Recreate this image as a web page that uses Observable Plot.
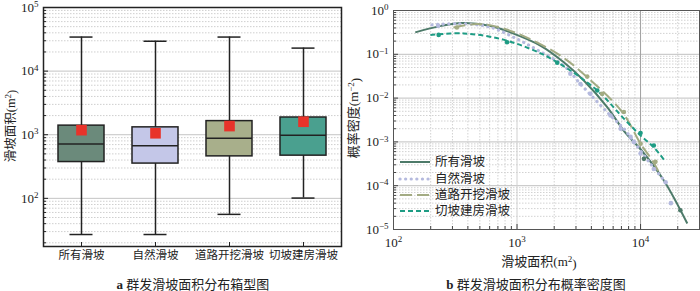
<!DOCTYPE html>
<html><head><meta charset="utf-8">
<script src="https://cdn.jsdelivr.net/npm/d3@7"></script>
<script src="https://cdn.jsdelivr.net/npm/@observablehq/plot@0.6"></script>
<style>
body{margin:0;background:#fff;}
#wrap{position:relative;width:700px;height:291px;overflow:hidden;font-family:'Liberation Serif','Noto Sans CJK SC',serif;color:#222;}
.panel{position:absolute;top:0;}
.cap{position:absolute;top:277px;font-size:13px;line-height:15px;white-space:nowrap;transform:translateX(-50%);}
</style></head><body>
<div id="wrap">
 <div id="a" class="panel" style="left:0"></div>
 <div id="b" class="panel" style="left:350px"></div>
 <div class="cap" style="left:193px"><b>a</b> 群发滑坡面积分布箱型图</div>
 <div class="cap" style="left:536px"><b>b</b> 群发滑坡面积分布概率密度图</div>
</div>
<script>
// ---------- Panel a data (box plot) ----------
const categories = ["所有滑坡", "自然滑坡", "道路开挖滑坡", "切坡建房滑坡"];
const whiskerLow  = [27, 27, 56, 101];
const q1          = [372, 352, 457, 469];
const median      = [718, 670, 884, 982];
const q3          = [1390, 1306, 1637, 1866];
const whiskerHigh = [34300, 29500, 34300, 23000];
const mean        = [1180, 1055, 1368, 1600];

// ---------- Panel b data (probability density) ----------
const seriesNames = ["所有滑坡", "自然滑坡", "道路开挖滑坡", "切坡建房滑坡"];
const allX = [150, 239, 358, 600, 883, 1545, 2390, 3470, 5370, 7550, 10000, 15350, 23900];
const allY = [0.317, 0.44, 0.52, 0.45, 0.317, 0.158, 0.0657, 0.0252, 0.0062, 0.0016, 0.00068, 0.000135, 0.0000137];
const natX = [205, 330, 600, 1000, 1500, 2390, 3260, 5710, 7330, 8830, 12000, 15960];
const natY = [0.47, 0.50, 0.42, 0.224, 0.12, 0.055, 0.021, 0.004, 0.002, 0.001, 0.00032, 0.00012];
const roadX = [306, 474, 700, 1133, 2245, 3700, 7110, 10000, 12440, 14060];
const roadY = [0.41, 0.49, 0.42, 0.26, 0.093, 0.03, 0.0048, 0.00091, 0.00038, 0.000205];
const cutX = [199, 370, 733, 1283, 2115, 4460, 7330, 10000, 12800, 15960];
const cutY = [0.277, 0.30, 0.224, 0.133, 0.066, 0.0149, 0.0034, 0.0014, 0.00075, 0.00035];
// scattered observations
const allDotX = [10650, 21000];
const allDotY = [0.00041, 0.0000275];
const natDotX = [230, 2700, 3260, 3930, 5710, 6900, 8300, 8830, 10000, 12800, 15960, 17600];
const natDotY = [0.45, 0.036, 0.021, 0.0125, 0.004, 0.002, 0.0013, 0.001, 0.00054, 0.00024, 0.00012, 0.00004];
const roadDotX = [326, 3700, 4880, 7330, 10000, 13200];
const roadDotY = [0.41, 0.031, 0.0125, 0.0048, 0.00091, 0.00035];
const cutDotX = [232, 830, 2115, 4460, 10000, 12800];
const cutDotY = [0.277, 0.188, 0.064, 0.0149, 0.0016, 0.00083];

const FONT = "'Liberation Serif','Noto Sans CJK SC',serif";
const boxColors = ["#6b8a7b", "#c4c7e8", "#a8af8b", "#4aa08f"];
const lineColors = ["#4d7a69", "#b5bade", "#a3ab83", "#1e9c84"];

const boxes = categories.map((c, i) => ({cat: c, lo: whiskerLow[i], q1: q1[i], med: median[i], q3: q3[i], hi: whiskerHigh[i], mean: mean[i]}));
const zip = (xs, ys) => xs.map((x, i) => ({x, y: ys[i]}));

function logTicks(lo, hi) {
  const major = [], minor = [];
  for (let e = Math.floor(Math.log10(lo)); e <= Math.ceil(Math.log10(hi)); e++) {
    const b = Math.pow(10, e);
    if (b >= lo * 0.999 && b <= hi * 1.001) major.push(b);
    for (let k = 2; k <= 9; k++) { const v = k * b; if (v > lo && v < hi) minor.push(v); }
  }
  return {major, minor};
}
const expFmt = d => "10^" + String(Math.round(Math.log10(d))).replace("-", "\u2212");

function supify(svg) {
  d3.select(svg).selectAll("text").each(function () {
    const t = this.textContent;
    const m = t.match(/^10\^(.+)$/);
    if (m) {
      const s = d3.select(this);
      s.text(null);
      s.append("tspan").text("10");
      s.append("tspan").attr("dy", "-0.5em").attr("font-size", "9px").text(m[1]);
    }
  });
}

// ---------- Panel a ----------
const yDomA = [17.5, 1e5];
const tA = logTicks(yDomA[0], yDomA[1]);
const mTopA = 7;
const fwA = 350 - 43 - 9, fhA = 262 - mTopA - 16;
const plotA = Plot.plot({
  width: 350, height: 262, marginLeft: 43, marginRight: 9, marginTop: mTopA, marginBottom: 16,
  style: {fontFamily: FONT, fontSize: "13px", color: "#222", background: "transparent", overflow: "visible"},
  x: {type: "band", domain: categories, paddingInner: 0.373, paddingOuter: 0.1865, label: null},
  y: {type: "log", domain: yDomA, label: null},
  color: {domain: categories, range: boxColors},
  marks: [
    Plot.ruleY(tA.minor, {stroke: "#cfcfcf", strokeDasharray: "1.5,1.5"}),
    Plot.ruleY(tA.major, {stroke: "#c4c4c4"}),
    Plot.tickY(tA.minor, {y: d => d, insetRight: fwA - 3, stroke: "#222"}),
    Plot.tickY(tA.major, {y: d => d, insetRight: fwA - 5, stroke: "#222"}),
    Plot.tickX(categories, {x: d => d, insetTop: fhA - 4, stroke: "#222"}),
    Plot.ruleX(boxes, {x: "cat", y1: "lo", y2: "hi", stroke: "#222", strokeWidth: 1.5}),
    Plot.tickY(boxes, {x: "cat", y: "lo", insetLeft: 11.5, insetRight: 11.5, stroke: "#222", strokeWidth: 1.5}),
    Plot.tickY(boxes, {x: "cat", y: "hi", insetLeft: 11.5, insetRight: 11.5, stroke: "#222", strokeWidth: 1.5}),
    Plot.barY(boxes, {x: "cat", y1: "q1", y2: "q3", fill: "cat", stroke: "#222", strokeWidth: 1.5}),
    Plot.tickY(boxes, {x: "cat", y: "med", stroke: "#222", strokeWidth: 1.5}),
    Plot.dot(boxes, {x: "cat", y: "mean", symbol: "square", r: 6, fill: "#e8332a"}),
    Plot.axisY({ticks: tA.major, tickFormat: expFmt, tickSize: 0, tickPadding: 5, label: null}),
    Plot.axisX({tickSize: 0, tickPadding: 4, label: null, fontSize: 11.5}),
    Plot.frame({stroke: "#222", strokeWidth: 1.5})
  ]
});
supify(plotA);
{
  const t = d3.select(plotA).append("text")
    .attr("transform", "translate(10,126) rotate(-90)")
    .attr("dy", "0.38em")
    .attr("text-anchor", "middle").attr("font-size", "12.5px").attr("fill", "#222");
  t.append("tspan").text("滑坡面积(m");
  t.append("tspan").attr("dy", "-0.45em").attr("font-size", "9px").text("2");
  t.append("tspan").attr("dy", "0.45em").text(")");
}
document.getElementById("a").append(plotA);

// ---------- Panel b ----------
const xDomB = [100, 30000], yDomB = [1e-5, 1];
const tBx = logTicks(xDomB[0], xDomB[1]);
const tBy = logTicks(yDomB[0], yDomB[1]);
const fwB = 350 - 43 - 1, fhB = 270 - 10 - 41;
const pts = [zip(allX, allY), zip(natX, natY), zip(roadX, roadY), zip(cutX, cutY)];
const dots = [zip(allDotX, allDotY), zip(natDotX, natDotY), zip(roadDotX, roadDotY), zip(cutDotX, cutDotY)];
const dashes = [null, "0.1,5.5", "12,5", "5,3"];
const widths = [2, 3.2, 2, 2];

const plotB = Plot.plot({
  width: 350, height: 270, marginLeft: 43, marginRight: 1, marginTop: 10, marginBottom: 41,
  style: {fontFamily: FONT, fontSize: "13px", color: "#222", background: "transparent", overflow: "visible"},
  x: {type: "log", domain: xDomB, label: null},
  y: {type: "log", domain: yDomB, label: null},
  marks: [
    Plot.ruleY(tBy.minor, {stroke: "#d2d2d2", strokeDasharray: "1.5,1.5"}),
    Plot.ruleX(tBx.minor, {stroke: "#d2d2d2", strokeDasharray: "1.5,1.5"}),
    Plot.ruleY(tBy.major, {stroke: "#c0c0c0"}),
    Plot.ruleX(tBx.major.filter(d => d !== 10000), {stroke: "#d0d0d0"}),
    Plot.ruleX(tBx.major.filter(d => d === 10000), {stroke: "#a0a0a0"}),
    Plot.tickY(tBy.minor, {y: d => d, insetRight: fwB - 3, stroke: "#444"}),
    Plot.tickY(tBy.major, {y: d => d, insetRight: fwB - 5, stroke: "#444"}),
    Plot.tickX(tBx.minor, {x: d => d, insetTop: fhB - 3, stroke: "#444"}),
    Plot.tickX(tBx.major, {x: d => d, insetTop: fhB - 5, stroke: "#444"}),
    ...pts.map((p, i) => Plot.line(p, {x: "x", y: "y", stroke: lineColors[i], strokeWidth: widths[i],
      strokeDasharray: dashes[i], strokeLinecap: i === 1 ? "round" : "butt", curve: "catmull-rom"})),
    ...dots.map((p, i) => Plot.dot(p, {x: "x", y: "y", r: 2.3, fill: lineColors[i]})),
    Plot.axisY({ticks: tBy.major, tickFormat: expFmt, tickSize: 0, tickPadding: 5, label: null}),
    Plot.axisX({ticks: tBx.major, tickFormat: expFmt, tickSize: 0, tickPadding: 8, label: null}),
    Plot.frame({stroke: "#555", strokeWidth: 1})
  ]
});
supify(plotB);
{
  const svg = d3.select(plotB);
  const t = svg.append("text")
    .attr("transform", "translate(8,118) rotate(-90)")
    .attr("text-anchor", "middle").attr("font-size", "13px").attr("fill", "#222");
  t.append("tspan").text("概率密度(m");
  t.append("tspan").attr("dy", "-0.45em").attr("font-size", "9px").text("\u22122");
  t.append("tspan").attr("dy", "0.45em").text(")");
  const xl = svg.append("text").attr("x", 189).attr("y", 266)
    .attr("text-anchor", "middle").attr("font-size", "13px").attr("fill", "#222");
  xl.append("tspan").text("滑坡面积(m");
  xl.append("tspan").attr("dy", "-0.45em").attr("font-size", "9px").text("2");
  xl.append("tspan").attr("dy", "0.45em").text(")");
  const rowsY = [162, 179, 195, 211];
  const lg = svg.append("g").attr("text-anchor", "start");
  seriesNames.forEach((n, i) => {
    lg.append("line").attr("x1", 50).attr("x2", 80).attr("y1", rowsY[i]).attr("y2", rowsY[i])
      .attr("stroke", lineColors[i]).attr("stroke-width", widths[i])
      .attr("stroke-dasharray", dashes[i]).attr("stroke-linecap", i === 1 ? "round" : "butt");
    lg.append("text").attr("x", 85).attr("y", rowsY[i]).attr("dy", "0.35em")
      .attr("text-anchor", "start").attr("font-size", "12.5px").attr("fill", "#222").text(n);
  });
}
document.getElementById("b").append(plotB);
</script>
</body></html>
